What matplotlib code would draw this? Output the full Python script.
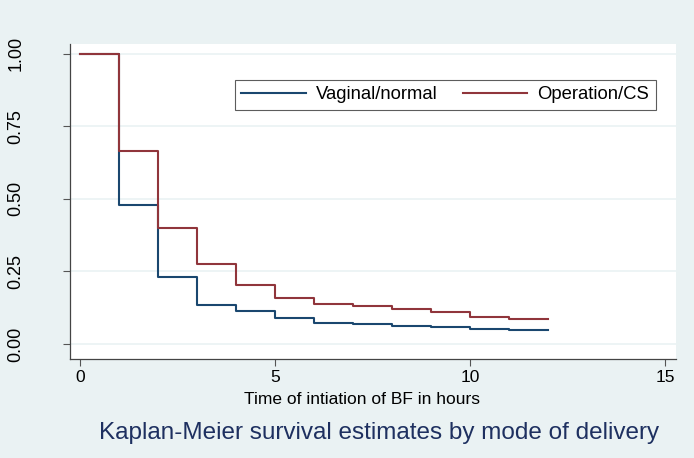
import numpy as np
import matplotlib.pyplot as plt

plt.rcParams['font.family'] = ['Liberation Sans', 'DejaVu Sans']

# Kaplan-Meier estimates (value held from t to t+1)
hours = [0, 1, 2, 3, 4, 5, 6, 7, 8, 9, 10, 11, 12]
vaginal = [1.0, 0.48, 0.232, 0.134, 0.115, 0.089, 0.074, 0.069, 0.063, 0.060, 0.053, 0.049, 0.049]
operation = [1.0, 0.665, 0.40, 0.276, 0.203, 0.160, 0.138, 0.130, 0.122, 0.109, 0.094, 0.086, 0.086]

xticks = [0, 5, 10, 15]
yticks = [0, 0.25, 0.5, 0.75, 1.0]
ytick_labels = ['0.00', '0.25', '0.50', '0.75', '1.00']

BG = '#eaf2f3'
BLUE = '#1a476f'
RED = '#90353b'

fig = plt.figure(figsize=(6.94, 4.58), dpi=100, facecolor=BG)
ax = fig.add_axes([0.1009, 0.216, 0.873, 0.688])
ax.set_facecolor('white')

ax.step(hours, vaginal, where='post', color=BLUE, lw=1.5, label='Vaginal/normal')
ax.step(hours, operation, where='post', color=RED, lw=1.5, label='Operation/CS')

ax.set_xlim(-0.256, 15.28)
ax.set_ylim(-0.052, 1.034)
ax.set_xticks(xticks)
ax.set_yticks(yticks)
ax.set_yticklabels(ytick_labels, rotation=90, va='center')
ax.tick_params(axis='x', labelsize=12.5, pad=3)
ax.tick_params(axis='y', labelsize=13, pad=28)
ax.tick_params(color='#555555', length=5, width=0.8)
ax.grid(axis='y', color=BG, lw=1.2)
ax.set_axisbelow(True)

for side in ['top', 'right']:
    ax.spines[side].set_visible(False)
for side in ['left', 'bottom']:
    ax.spines[side].set_color('#444444')
    ax.spines[side].set_linewidth(0.9)

ax.set_xlabel('Time of intiation of BF in hours', fontsize=12.5)
ax.xaxis.set_label_coords(0.482, -0.105)

leg = ax.legend(loc='upper left', bbox_to_anchor=(0.272, 0.886), ncol=2, frameon=True,
                fancybox=False, edgecolor='#333333', fontsize=13.3, handlelength=3.5,
                handletextpad=0.55, columnspacing=1.35, borderpad=0.35,
                borderaxespad=0)
leg.get_frame().set_linewidth(0.8)

fig.text(0.546, 0.054, 'Kaplan-Meier survival estimates by mode of delivery',
         ha='center', va='center', fontsize=17.5, color='#1e3060')

plt.savefig('out.png', dpi=100, facecolor=BG)
